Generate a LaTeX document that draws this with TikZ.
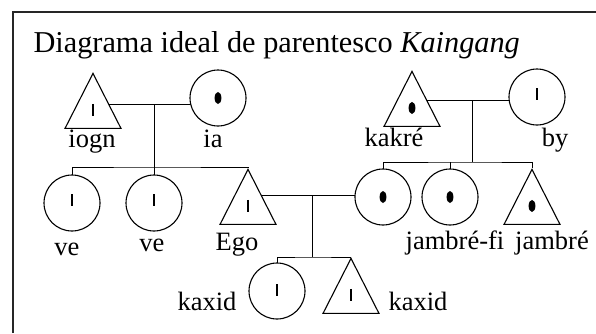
\documentclass[tikz,border=0pt]{standalone}
\usepackage{fontspec}
\setmainfont{Liberation Serif}
\usetikzlibrary{shapes.geometric,backgrounds}

\begin{document}
\begin{tikzpicture}[
  x=1pt,y=-1pt,
  line width=1.1pt,
  male/.style={draw,fill=white,isosceles triangle,shape border rotate=90,
               isosceles triangle stretches,minimum width=56pt,
               minimum height=55pt,inner sep=0pt,anchor=apex},
  female/.style={draw,fill=white,circle,minimum size=56pt,inner sep=0pt},
  bar mark/.style={path picture={\draw[black,line width=1.5pt]
      ([yshift=#1]path picture bounding box.center) ++(0,-6) -- ++(0,12);}},
  bar mark/.default=3pt,
  dot mark/.style={path picture={\fill[black]
      ([yshift=#1]path picture bounding box.center)
      ellipse [x radius=3.4pt,y radius=6pt];}},
  dot mark/.default=0pt,
  kin/.style={font=\fontsize{26.5}{28}\selectfont,inner sep=0pt,anchor=base},
  tie/.style={line width=1.3pt}
]
\useasboundingbox (0,0) rectangle (596,333);
\draw[line width=2pt,black!85] (13,333) -- (13,12) -- (596,12);
\node[anchor=base west,inner sep=0pt,font=\fontsize{30.3}{32}\selectfont] (title)
  at (33,52) {Diagrama ideal de parentesco \textit{Kaingang}};

% generation 1
\node[male,bar mark=-9pt] (iogn) at (93,72) {};
\node[female,dot mark] (ia) at (218,98) {};
\node[male,dot mark=-9pt] (kakre) at (412,70) {};
\node[female,bar mark] (by) at (537,97) {};
% generation 2
\node[female,bar mark] (ve1) at (72,203) {};
\node[female,bar mark] (ve2) at (154,203) {};
\node[male,bar mark=-9pt] (ego) at (248,168) {};
\node[female,dot mark] (esposa) at (383,197) {};
\node[female,dot mark] (jambrefi) at (450,197) {};
\node[male,dot mark=-9pt] (jambre) at (532,168) {};
% generation 3
\node[female,bar mark=1pt] (kaxidf) at (277,291) {};
\node[male,bar mark=-9pt] (kaxidm) at (351,257) {};

\foreach \nm/\x/\y/\txt in {
  iogn/92/147/iogn, ia/213/147/ia, kakre/394/146/kakré, by/555/146/by,
  ve1/67/255/ve, ve2/152/251/ve, ego/237/250/Ego,
  jambrefi/455/249/jambré-fi, jambre/552/249/jambré,
  kaxidf/207/310/kaxid, kaxidm/418/310/kaxid}
  {
    \node[kin] (t-\nm) at (\x,\y) {\txt};
  }

\coordinate (u1) at (154,104);
\coordinate (s1) at (154,167);
\coordinate (u2) at (472,100);
\coordinate (s2) at (472,162);
\coordinate (u3) at (312,195);
\coordinate (s3) at (312,257);
\begin{scope}[on background layer,tie]
  \draw (iogn.apex |- u1) -- (ia.center |- u1);
  \draw (u1) -- (s1);
  \draw (ve1.center) |- (s1) -| (ego.apex);
  \draw (s1) -- (ve2.center);
  \draw (kakre.apex |- u2) -- (by.center |- u2);
  \draw (u2) -- (s2);
  \draw (esposa.center) |- (s2) -| (jambre.apex);
  \draw (s2 -| jambrefi.center) -- (jambrefi.center);
  \draw (ego.apex |- u3) -- (esposa.center |- u3);
  \draw (u3) -- (s3);
  \draw (kaxidf.center) |- (s3) -| (kaxidm.apex);
\end{scope}
\end{tikzpicture}
\end{document}
